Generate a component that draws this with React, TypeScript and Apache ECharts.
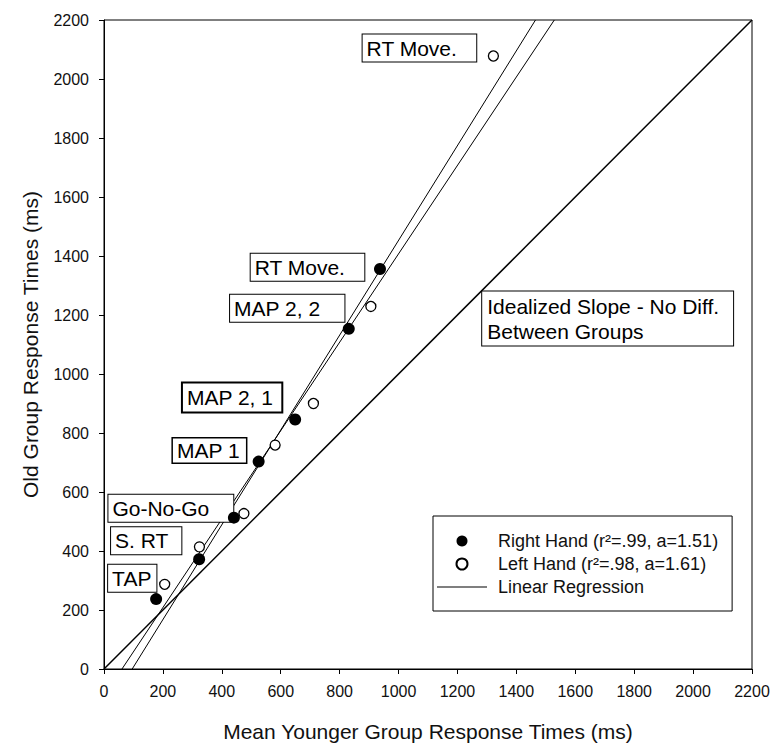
import React, { useEffect, useRef } from "react";
import * as echarts from "echarts";

// Task labels, shared by both hands
const TASKS = ["TAP", "S. RT", "Go-No-Go", "MAP 1", "MAP 2, 1", "MAP 2, 2", "RT Move."];

// Mean younger-group response times (ms)
const RIGHT_YOUNG = [177, 323, 441, 525, 649, 831, 937];
const LEFT_YOUNG = [206, 324, 475, 581, 711, 906, 1322];
// Mean old-group response times (ms)
const RIGHT_OLD = [237, 372, 513, 703, 846, 1153, 1356];
const LEFT_OLD = [287, 414, 527, 759, 900, 1229, 2078];

const AXIS_TICKS = [0, 200, 400, 600, 800, 1000, 1200, 1400, 1600, 1800, 2000, 2200];

const RIGHT_NAME = "Right Hand (r\u00b2=.99, a=1.51)";
const LEFT_NAME = "Left Hand (r\u00b2=.98, a=1.61)";
const REG_NAME = "Linear Regression";

// Annotation boxes: text, left edge and vertical centre in data units
const NOTE_TEXT = [
  "TAP",
  "S. RT",
  "Go-No-Go",
  "MAP 1",
  "MAP 2, 1",
  "MAP 2, 2",
  "RT Move.",
  "RT Move.",
  "Idealized Slope - No Diff.\nBetween Groups",
];
const NOTE_X = [14, 24, 15, 234, 268, 428, 498, 878, 1284];
const NOTE_Y = [308, 435, 545, 741, 920, 1223, 1362, 2105, 1188];

// Box paddings / borders per annotation (styling only)
const NOTE_STYLE = [
  { pad: [3, 5, 2, 4], bw: 1 },
  { pad: [3, 13, 2, 4], bw: 1 },
  { pad: [3, 24, 2, 4], bw: 1 },
  { pad: [1, 6, 1, 4], bw: 1.5 },
  { pad: [3, 8, 3, 4], bw: 2 },
  { pad: [3, 24, 2, 4], bw: 1 },
  { pad: [3, 19, 2, 4], bw: 1 },
  { pad: [3, 19, 2, 4], bw: 1 },
  { pad: [2, 14, 2, 5], bw: 1, lh: 25 },
];

const FONT = '"Liberation Sans", Arial, Helvetica, sans-serif';
const AX_MIN = 0;
const AX_MAX = 2200;

// Ordinary least-squares fit y = a*x + b
function fit(xs: number[], ys: number[]) {
  const n = xs.length;
  const mx = xs.reduce((s, v) => s + v, 0) / n;
  const my = ys.reduce((s, v) => s + v, 0) / n;
  let sxy = 0;
  let sxx = 0;
  for (let i = 0; i < n; i++) {
    sxy += (xs[i] - mx) * (ys[i] - my);
    sxx += (xs[i] - mx) * (xs[i] - mx);
  }
  const a = sxy / sxx;
  return { a, b: my - a * mx };
}

// Regression line drawn across the full y range of the plot
function regressionLine(xs: number[], ys: number[]) {
  const { a, b } = fit(xs, ys);
  return [
    [(AX_MIN - b) / a, AX_MIN],
    [(AX_MAX - b) / a, AX_MAX],
  ];
}

export default function App() {
  const ref = useRef<HTMLDivElement>(null);

  useEffect(() => {
    if (!ref.current) return;
    const chart = echarts.init(ref.current, undefined, { renderer: "svg" });

    const axisCommon = {
      type: "value" as const,
      min: AX_MIN,
      max: AX_MAX,
      interval: AXIS_TICKS[1] - AXIS_TICKS[0],
      splitLine: { show: false },
      axisLine: { show: true, lineStyle: { color: "#000", width: 1 } },
      axisTick: { show: true, inside: false, length: 5, lineStyle: { color: "#000" } },
      nameLocation: "middle" as const,
      nameTextStyle: { fontFamily: FONT, fontSize: 21, color: "#111" },
    };
    const tickLabel = (v: number) => String(v);

    const notes = NOTE_TEXT.map((t, i) => ({
      value: [NOTE_X[i], NOTE_Y[i]],
      name: t,
      label: {
        padding: NOTE_STYLE[i].pad,
        borderWidth: NOTE_STYLE[i].bw,
        lineHeight: NOTE_STYLE[i].lh ?? 22,
      },
    }));

    chart.setOption({
      animation: false,
      backgroundColor: "#fff",
      grid: {
        left: 104,
        right: 23,
        top: 20,
        bottom: 77,
        show: true,
        borderColor: "#000",
        borderWidth: 1,
      },
      xAxis: {
        ...axisCommon,
        name: "Mean Younger Group Response Times (ms)",
        nameGap: 52,
        axisLabel: { fontFamily: FONT, fontSize: 16, color: "#111", margin: 14, formatter: tickLabel },
      },
      yAxis: {
        ...axisCommon,
        name: "Old Group Response Times (ms)",
        nameGap: 63,
        axisLabel: { fontFamily: FONT, fontSize: 16, color: "#111", margin: 15, formatter: tickLabel },
      },
      legend: {
        orient: "vertical",
        left: 433,
        top: 516,
        padding: [16, 14, 15, 4],
        borderColor: "#000",
        borderWidth: 1,
        backgroundColor: "#fff",
        itemWidth: 50,
        itemHeight: 11,
        itemGap: 5,
        textStyle: {
          fontFamily: FONT,
          fontSize: 18,
          color: "#111",
          lineHeight: 18,
          padding: [0, 0, 0, 6],
        },
        data: [
          { name: RIGHT_NAME, icon: "circle" },
          { name: LEFT_NAME, icon: "circle" },
          { name: REG_NAME, icon: "path://M0,0H50V1H0Z" },
        ],
      },
      series: [
        {
          name: "Idealized Slope",
          type: "line",
          data: [
            [AX_MIN, AX_MIN],
            [AX_MAX, AX_MAX],
          ],
          showSymbol: false,
          lineStyle: { color: "#000", width: 1.5 },
          silent: true,
          z: 1,
        },
        {
          name: REG_NAME,
          type: "line",
          data: regressionLine(RIGHT_YOUNG, RIGHT_OLD),
          showSymbol: false,
          lineStyle: { color: "#000", width: 1 },
          itemStyle: { color: "#000" },
          silent: true,
          z: 2,
        },
        {
          name: REG_NAME,
          type: "line",
          data: regressionLine(LEFT_YOUNG, LEFT_OLD),
          showSymbol: false,
          lineStyle: { color: "#000", width: 1 },
          itemStyle: { color: "#000" },
          silent: true,
          z: 2,
        },
        {
          name: RIGHT_NAME,
          type: "scatter",
          data: RIGHT_YOUNG.map((x, i) => [x, RIGHT_OLD[i], TASKS[i]]),
          symbol: "circle",
          symbolSize: 12,
          itemStyle: { color: "#000", opacity: 1 },
          z: 4,
        },
        {
          name: LEFT_NAME,
          type: "scatter",
          data: LEFT_YOUNG.map((x, i) => [x, LEFT_OLD[i], TASKS[i]]),
          symbol: "circle",
          symbolSize: 10,
          itemStyle: { color: "#fff", borderColor: "#000", borderWidth: 1.3, opacity: 1 },
          z: 4,
        },
        {
          name: "notes",
          type: "scatter",
          data: notes,
          symbolSize: 0,
          silent: true,
          z: 3,
          itemStyle: { opacity: 1 },
          label: {
            show: true,
            position: "inside",
            formatter: (p: any) => p.name,
            fontFamily: FONT,
            fontSize: 21,
            color: "#000",
            align: "left",
            verticalAlign: "middle",
            backgroundColor: "#fff",
            borderColor: "#000",
          },
        },
      ],
    });

    return () => chart.dispose();
  }, []);

  return (
    <div
      ref={ref}
      style={{ position: "fixed", left: 0, top: 0, width: 775, height: 747 }}
    />
  );
}
